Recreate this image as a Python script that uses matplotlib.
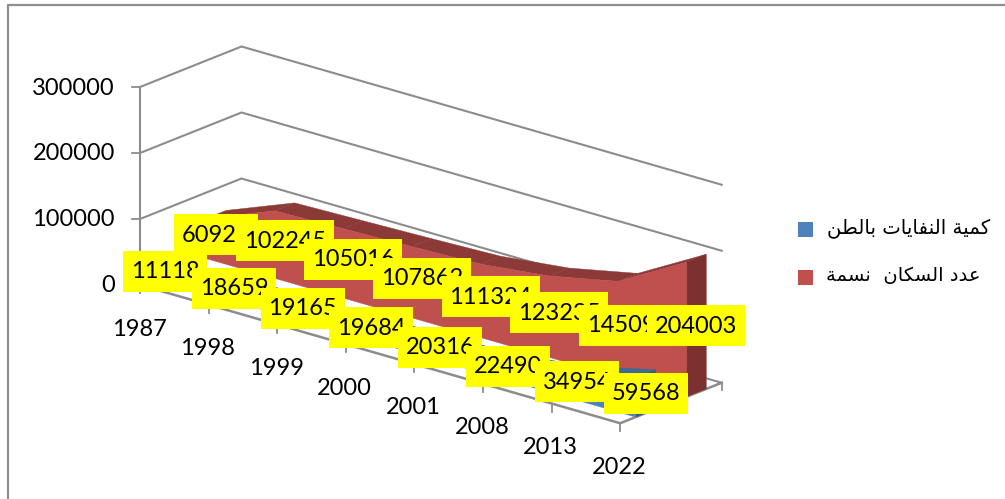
import matplotlib
matplotlib.use("Agg")
from matplotlib import pyplot as plt
from matplotlib.patches import Polygon, Rectangle

years = ["1987", "1998", "1999", "2000", "2001", "2008", "2013", "2022"]
waste = [11118, 18659, 19165, 19684, 20316, 22490, 34954, 59568]
population = [60924, 102245, 105016, 107862, 111324, 123235, 145096, 204003]
y_ticks = [0, 100000, 200000, 300000]

waste_name = "كمية النفايات بالطن"
population_name = "عدد السكان  نسمة"

# oblique projection of the chart box, in figure pixels
ORIGIN = (140.0, 285.0)
CAT_STEP = (68.6, 19.75)
DEPTH_VEC = (101.5, -40.5)
PX_PER_UNIT = 66.0 / 100000

GRID = "#8c8c8c"
FONT = "Lato"
FS = 17.0

# contextual forms: isolated, final, initial, medial
FORMS = {
    "ا": "\ufe8d\ufe8e", "د": "\ufea9\ufeaa", "ة": "\ufe93\ufe94",
    "ب": "\ufe8f\ufe90\ufe91\ufe92", "ت": "\ufe95\ufe96\ufe97\ufe98",
    "س": "\ufeb1\ufeb2\ufeb3\ufeb4", "ط": "\ufec1\ufec2\ufec3\ufec4",
    "ع": "\ufec9\ufeca\ufecb\ufecc", "ف": "\ufed1\ufed2\ufed3\ufed4",
    "ك": "\ufed9\ufeda\ufedb\ufedc", "ل": "\ufedd\ufede\ufedf\ufee0",
    "م": "\ufee1\ufee2\ufee3\ufee4", "ن": "\ufee5\ufee6\ufee7\ufee8",
    "ي": "\ufef1\ufef2\ufef3\ufef4",
}


def shape_arabic(text):
    # matplotlib does no shaping, so pick the joined glyphs and lay them out right to left
    out = []
    for i, ch in enumerate(text):
        if ch not in FORMS:
            out.append(ch)
            continue
        prev = text[i - 1] if i > 0 else " "
        nxt = text[i + 1] if i + 1 < len(text) else " "
        joins_prev = prev in FORMS and len(FORMS[prev]) == 4
        joins_next = nxt in FORMS and len(FORMS[ch]) == 4
        idx = {(False, False): 0, (True, False): 1, (False, True): 2, (True, True): 3}[(joins_prev, joins_next)]
        out.append(FORMS[ch][idx])
    return "".join(reversed(out))


def project(cat, depth, value):
    x = ORIGIN[0] + cat * CAT_STEP[0] + depth * DEPTH_VEC[0]
    y = ORIGIN[1] + cat * CAT_STEP[1] + depth * DEPTH_VEC[1] - value * PX_PER_UNIT
    return x, y


def draw_area(ax, values, d0, d1, front, top, side):
    n = len(values)
    # top strips first so the front face covers the rising parts
    for i in range(n - 1):
        pts = [project(i, d0, values[i]), project(i + 1, d0, values[i + 1]),
               project(i + 1, d1, values[i + 1]), project(i, d1, values[i])]
        ax.add_patch(Polygon(pts, closed=True, fc=top, ec=top, lw=0.3, zorder=5))
    last = n - 1
    pts = [project(last, d0, 0), project(last, d0, values[last]),
           project(last, d1, values[last]), project(last, d1, 0)]
    ax.add_patch(Polygon(pts, closed=True, fc=side, ec=side, lw=0.3, zorder=5))
    pts = [project(0, d0, 0)] + [project(i, d0, values[i]) for i in range(n)] + [project(last, d0, 0)]
    ax.add_patch(Polygon(pts, closed=True, fc=front, ec=front, lw=0.3, zorder=5))


def draw_labels(ax, values, depth, start_z):
    for i, v in enumerate(values):
        x, y = project(i, depth, v / 2)
        s = str(v)
        w = 14 * len(s) + 14
        ax.add_patch(Rectangle((x - w / 2, y - 20.5), w, 41, fc="#ffff00", ec="none", zorder=start_z + i))
        ax.text(x, y + 0.5, s, ha="center", va="center", fontsize=FS, family=FONT, color="black", zorder=start_z + i)


fig = plt.figure(figsize=(10.05, 4.99), dpi=100)
ax = fig.add_axes([0, 0, 1, 1])
ax.set_xlim(0, 1005)
ax.set_ylim(499, 0)
ax.axis("off")

# chart frame
ax.plot([8, 8, 1005], [499, 5, 5], color="#8f8f8f", lw=1.6)

last_cat = len(years) - 1

# walls
for t in y_ticks:
    a = project(0, 0, t)
    b = project(0, 1, t)
    c = project(last_cat, 1, t)
    ax.plot([a[0], b[0], c[0]], [a[1], b[1], c[1]], color=GRID, lw=1.5, solid_joinstyle="miter")
    ax.plot([a[0] - 8, a[0]], [a[1], a[1]], color=GRID, lw=1.3)
    ax.text(a[0] - 25, a[1] + 1, str(t), ha="right", va="center", fontsize=FS, family=FONT)

a = project(0, 0, y_ticks[0])
b = project(0, 0, y_ticks[-1])
ax.plot([a[0], b[0]], [a[1], b[1]], color=GRID, lw=1.5)

# floor edges and category ticks
f0 = project(0, 0, 0)
f1 = project(last_cat, 0, 0)
f2 = project(last_cat, 1, 0)
ax.plot([f0[0], f1[0], f2[0]], [f0[1], f1[1], f2[1]], color=GRID, lw=1.8, solid_joinstyle="miter", zorder=1)
ax.plot([f2[0], f2[0]], [f2[1], f2[1] + 7], color=GRID, lw=1.3)
for i, yr in enumerate(years):
    x, y = project(i, 0, 0)
    ax.plot([x, x], [y, y + 8], color=GRID, lw=1.3)
    ax.text(x - 1, y + 44, yr, ha="center", va="center", fontsize=FS, family=FONT)

# back series first, then the front one
draw_area(ax, population, 0.652, 0.848, "#c0504d", "#8b3a38", "#7c3130")
draw_area(ax, waste, 0.152, 0.348, "#4f81bd", "#3a6a9c", "#2f5a88")

draw_labels(ax, population, 0.75, 20)
draw_labels(ax, waste, 0.25, 40)

# legend
ax.add_patch(Rectangle((798, 222), 15, 15, fc="#4f81bd", ec="none"))
ax.add_patch(Rectangle((798, 270), 15, 15, fc="#c0504d", ec="none"))
ax.text(827, 228, shape_arabic(waste_name), ha="left", va="center", fontsize=14.2, family="DejaVu Sans")
ax.text(826, 276, shape_arabic(population_name), ha="left", va="center", fontsize=14.0, family="DejaVu Sans")

fig.savefig("out.png", dpi=100)
